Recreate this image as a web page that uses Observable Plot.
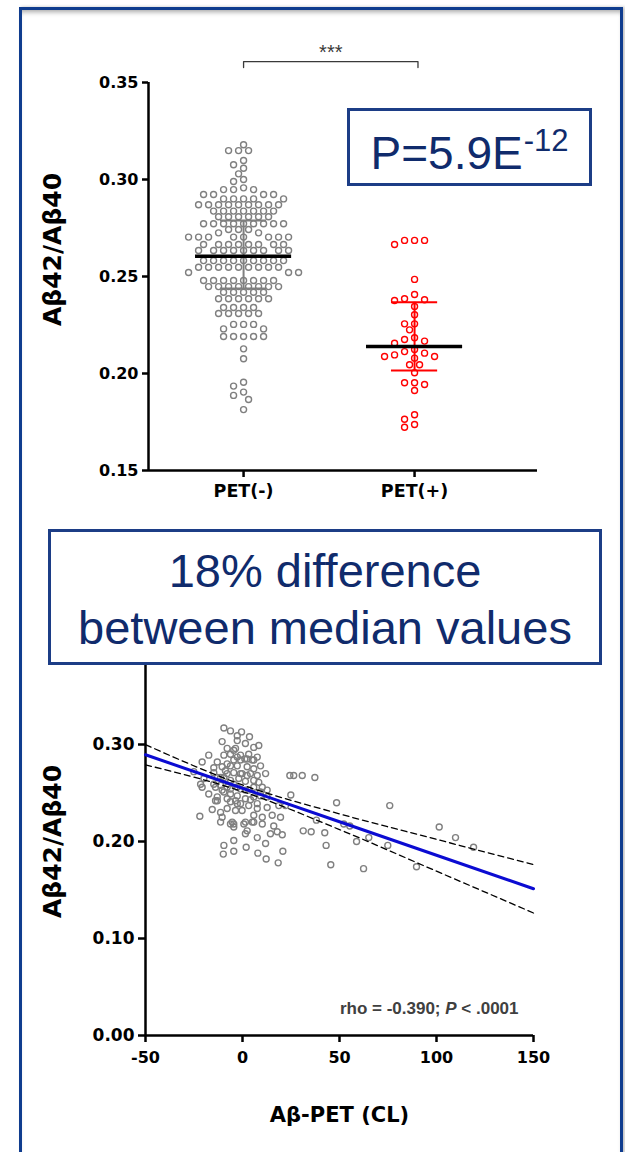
<!DOCTYPE html>
<html>
<head>
<meta charset="utf-8">
<script src="https://cdn.jsdelivr.net/npm/d3@7"></script>
<script src="https://cdn.jsdelivr.net/npm/@observablehq/plot@0.6"></script>
<style>
  html, body { margin: 0; padding: 0; background: #ffffff; }
  #page { position: relative; width: 625px; height: 1152px; overflow: hidden; background: #ffffff;
          font-family: "Liberation Sans", Arial, Helvetica, sans-serif; }
  #scatterTop, #scatterBottom { position: absolute; left: 0; width: 625px; }
  #scatterTop { top: 0; }
  #scatterBottom { top: 600px; }
  .note { position: absolute; box-sizing: border-box; background: #ffffff; border: 3px solid #1c3d86;
          color: #102b6c; text-align: center; font-weight: normal; }
  #pNote { left: 347px; top: 108px; width: 245px; height: 78px; font-size: 46px; line-height: 46px; padding-top: 19px; white-space: nowrap; }
  #pNote sup { font-size: 31px; vertical-align: 18px; line-height: 0; margin-left: 1px; }
  #diffNote { left: 48px; top: 529px; width: 554px; height: 136px; font-size: 47px; line-height: 57px; padding-top: 10px; }
  #frame { position: absolute; left: 19px; top: 7px; width: 604px; height: 1200px; box-sizing: border-box;
           border: 3px solid #0f3c8e; box-shadow: inset 0 5px 5px -3px rgba(0,0,0,0.35), 2px 0 3px rgba(0,0,0,0.25); pointer-events: none; }
</style>
</head>
<body>
<div id="page">
  <div id="scatterTop"></div>
  <div id="scatterBottom"></div>
  <div class="note" id="pNote"></div>
  <div class="note" id="diffNote"></div>
  <div id="frame"></div>
</div>
<script>
// ---- Group comparison: Aβ42/Aβ40 ratio by amyloid-PET status ----
const groups = ["PET(-)", "PET(+)"];

const petNegRatio = [
  0.3179,
  0.3149, 0.3149, 0.3149,
  0.3098, 0.3076, 0.3058, 0.3029, 0.3000, 0.2990, 0.2957,
  0.2948, 0.2948, 0.2948,
  0.2923, 0.2923, 0.2923, 0.2923,
  0.2900, 0.2900, 0.2900, 0.2900, 0.2900,
  0.2870, 0.2870, 0.2870, 0.2870, 0.2870, 0.2870, 0.2870, 0.2870, 0.2870,
  0.2837, 0.2837, 0.2837, 0.2837, 0.2837, 0.2837, 0.2837,
  0.2808, 0.2808, 0.2808, 0.2808, 0.2808, 0.2808,
  0.2772, 0.2772, 0.2772, 0.2772, 0.2772, 0.2772, 0.2772, 0.2772, 0.2772,
  0.2742, 0.2742, 0.2742,
  0.2725, 0.2725,
  0.2703, 0.2703, 0.2703, 0.2703, 0.2703, 0.2703, 0.2703, 0.2703,
  0.2665, 0.2665, 0.2665, 0.2665, 0.2665, 0.2665, 0.2665, 0.2665,
  0.2634, 0.2634, 0.2634, 0.2634, 0.2634, 0.2634, 0.2634, 0.2634, 0.2634,
  0.2582, 0.2582, 0.2582, 0.2582, 0.2582, 0.2582, 0.2582, 0.2582, 0.2582,
  0.2548, 0.2548, 0.2548, 0.2548, 0.2548, 0.2548, 0.2548, 0.2548, 0.2548,
  0.2521, 0.2521, 0.2521,
  0.2479, 0.2479, 0.2479, 0.2479, 0.2479, 0.2479, 0.2479, 0.2479,
  0.2448, 0.2448, 0.2448, 0.2448, 0.2448, 0.2448, 0.2448, 0.2448,
  0.2419, 0.2419, 0.2419, 0.2419, 0.2419,
  0.2385, 0.2385, 0.2385, 0.2385, 0.2385, 0.2385,
  0.2340, 0.2340, 0.2340, 0.2340,
  0.2309, 0.2309, 0.2309, 0.2309, 0.2309,
  0.2253, 0.2253, 0.2253,
  0.2230, 0.2230,
  0.2191, 0.2191, 0.2191, 0.2191, 0.2191,
  0.2127, 0.2076, 0.1955, 0.1935, 0.1904, 0.1887, 0.1866, 0.1814
];

const petPosRatio = [
  0.2686, 0.2665, 0.2686, 0.2686, 0.2485, 0.2407, 0.2385, 0.2380, 0.2376,
  0.2345, 0.2303, 0.2256, 0.2256, 0.2225, 0.2184, 0.2167, 0.2156, 0.2175,
  0.2124, 0.2105, 0.2113, 0.2088, 0.2079, 0.2088, 0.2096, 0.2045, 0.2045,
  0.2004, 0.1952, 0.1943, 0.1952, 0.1912, 0.1764, 0.1787, 0.1723, 0.1737
];

// Median and interquartile range per group
const groupMedian = [0.2605, 0.2139];
const groupQ1 = [0.2438, 0.2015];
const groupQ3 = [0.2789, 0.2367];

const topTicks = [0.15, 0.20, 0.25, 0.30, 0.35];
const significance = "***";
const pValueBase = "P=5.9E";
const pValueExp = "-12";
const diffLines = ["18% difference", "between median values"];

// ---- Correlation: Aβ42/Aβ40 ratio against Aβ-PET centiloid ----
const centiloid = [
  -22.0, -20.8, -17.4, -25.1, -19.9, -21.6, -20.8, -17.4, -15.6, -14.8,
  -13.0, -14.8, -13.0, -13.9, -11.3, -10.5, -5.3, -4.5, -9.6, -6.2,
  -10.5, -2.7, -0.5, 3.6, 1.5, 5.8, 8.4, -7.9, -3.6, -2.7,
  -4.5, -1.0, 3.2, 7.6, 1.2, 5.0, -9.6, -6.2, -2.7, -10.5,
  -6.2, -2.7, 2.4, 5.8, 9.3, -8.8, -4.5, -0.2, 4.1, 7.6,
  11.9, -9.6, -6.2, -1.9, 1.5, 5.8, 8.4, -11.3, -7.9, -4.5,
  -1.0, 3.2, 10.2, 12.7, -9.6, -6.2, -2.7, 1.5, 5.8, 9.3,
  -6.2, -2.7, 3.2, 7.6, 12.7, 18.7, -7.9, -3.6, -0.2, 5.8,
  10.2, 15.3, 1.5, 5.0, 10.2, 16.1, 17.9, 14.4, 2.4, -9.9,
  -9.6, -4.5, 1.9, 7.9, 12.2, 18.4, 24.4, 26.4, 30.8, 37.3,
  24.9, 48.5, 75.9, 22.2, 19.6, 38.1, 52.2, 55.3, 101.4, 31.3,
  35.4, 42.4, 20.5, 65.1, 109.8, 58.8, 119.1, 43.1, 74.9, 20.8,
  45.5, 62.4, 89.7, -13.0, -14.8, -11.3, -7.9, -1.0, 2.4, -13.9,
  -10.5, -6.2, -2.7, 1.5, 5.8, 9.3, -13.0, -7.9, -3.6, -1.0,
  4.1, 7.6, 12.7, -11.3, -6.2, -4.5, 0.7, 5.8, 1.5, -4.5,
  7.6, 11.9, -7.9, -4.5, -1.0, 2.4, 5.8
];
const abRatio = [
  0.226, 0.282, 0.289, 0.272, 0.265, 0.259, 0.256, 0.249, 0.233, 0.276,
  0.266, 0.259, 0.246, 0.242, 0.230, 0.225, 0.220, 0.218, 0.317, 0.314,
  0.303, 0.309, 0.313, 0.308, 0.301, 0.297, 0.299, 0.296, 0.296, 0.304,
  0.294, 0.289, 0.290, 0.287, 0.285, 0.284, 0.289, 0.290, 0.287, 0.277,
  0.278, 0.278, 0.277, 0.275, 0.278, 0.273, 0.271, 0.270, 0.270, 0.268,
  0.270, 0.266, 0.263, 0.265, 0.262, 0.263, 0.261, 0.258, 0.256, 0.259,
  0.254, 0.253, 0.256, 0.253, 0.251, 0.249, 0.247, 0.244, 0.246, 0.247,
  0.241, 0.239, 0.237, 0.234, 0.235, 0.237, 0.234, 0.232, 0.232, 0.227,
  0.225, 0.227, 0.220, 0.220, 0.218, 0.216, 0.210, 0.208, 0.211, 0.187,
  0.196, 0.190, 0.194, 0.188, 0.182, 0.178, 0.268, 0.268, 0.268, 0.266,
  0.248, 0.240, 0.237, 0.237, 0.225, 0.222, 0.218, 0.216, 0.215, 0.211,
  0.210, 0.209, 0.207, 0.204, 0.204, 0.200, 0.194, 0.196, 0.196, 0.190,
  0.176, 0.172, 0.174, 0.282, 0.271, 0.266, 0.270, 0.270, 0.268, 0.256,
  0.253, 0.254, 0.256, 0.253, 0.256, 0.251, 0.242, 0.244, 0.242, 0.239,
  0.243, 0.239, 0.246, 0.220, 0.218, 0.215, 0.218, 0.220, 0.208, 0.201,
  0.204, 0.198, 0.280, 0.284, 0.284, 0.285, 0.284
];

// Linear fit with 95% confidence band, sampled along the centiloid axis
const fitCentiloid = [-50, 0, 50, 100, 150];
const fitRatio = [0.2894, 0.2549, 0.2204, 0.1858, 0.1513];
const fitLower = [0.2790, 0.2515, 0.2123, 0.1694, 0.1263];
const fitUpper = [0.2998, 0.2583, 0.2285, 0.2022, 0.1763];

const bottomYTicks = [0.00, 0.10, 0.20, 0.30];
const bottomXTicks = [-50, 0, 50, 100, 150];
const statParts = [{text: "rho = -0.390; "}, {text: "P", italic: true}, {text: " < .0001"}];
const yTitle = "Aβ42/Aβ40";
const xTitle = "Aβ-PET (CL)";

// ---- styling ----
const AXIS_FONT = '"DejaVu Sans", Verdana, sans-serif';
const TEXT_FONT = '"Liberation Sans", Arial, Helvetica, sans-serif';
const GROUP_STROKE = ["#7f7f7f", "#ff0000"];
const POINT_GRAY = "#808080";
const AXIS_W = 2.5;

// Swarm layout: each point takes the free slot nearest its group centre
const SWARM_STEP = 5, SWARM_MIN = 7.5;
function swarm(options) {
  return Plot.initializer(options, (data, facets, channels, scales) => {
    const G = channels.x.value, V = channels.y.value;
    const n = G.length;
    const X = new Float64Array(n), Y = new Float64Array(n);
    for (let i = 0; i < n; ++i) { X[i] = scales.x(G[i]); Y[i] = scales.y(V[i]); }
    for (const I of facets) {
      const order = Array.from(I).sort((a, b) => Y[a] - Y[b]);
      const placed = [];
      for (const i of order) {
        const cx = X[i];
        for (let k = 0; k < 400; ++k) {
          const off = (k % 2 ? -1 : 1) * Math.ceil(k / 2) * SWARM_STEP;
          const px = cx + off;
          let ok = true;
          for (const [qx, qy, qg] of placed) {
            if (qg !== G[i]) continue;
            const dx = px - qx, dy = Y[i] - qy;
            if (dx * dx + dy * dy < SWARM_MIN * SWARM_MIN) { ok = false; break; }
          }
          if (ok) { X[i] = px; break; }
        }
        placed.push([X[i], Y[i], G[i]]);
      }
    }
    return {data, facets, channels: {x: {value: X}, y: {value: Y}}};
  });
}

// ---- top chart ----
const negPoints = petNegRatio.map(v => ({g: 1, v}));
const posPoints = petPosRatio.map(v => ({g: 2, v}));
const summary = groups.map((name, i) => ({
  g: i + 1, median: groupMedian[i], q1: groupQ1[i], q3: groupQ3[i], color: GROUP_STROKE[i]
}));

const X_TOP = [0.444, 2.719];
const MED_HALF = 0.281, CAP_HALF = 0.135;
const BRACKET_TOP = 0.3608, BRACKET_FOOT = 0.3577, BRACKET_TEXT = 0.3652;
const bracket = [
  {g: 1, y: BRACKET_FOOT}, {g: 1, y: BRACKET_TOP}, {g: 2.02, y: BRACKET_TOP}, {g: 2.02, y: BRACKET_FOOT}
];

const topChart = Plot.plot({
  width: 625,
  height: 520,
  marginTop: 82,
  marginBottom: 50,
  marginLeft: 148,
  marginRight: 88,
  style: {fontFamily: AXIS_FONT, fontWeight: "bold", color: "#000", background: "transparent", overflow: "visible"},
  x: {domain: X_TOP, label: null},
  y: {domain: [0.15, 0.35], label: null},
  color: {type: "identity"},
  marks: [
    Plot.axisY(topTicks, {tickSize: 6, tickPadding: 4, strokeWidth: AXIS_W, fontSize: 16, tickFormat: d3.format(".2f"), label: null}),
    Plot.axisX([1, 2], {tickSize: 7, tickPadding: 7, strokeWidth: AXIS_W, fontSize: 17.5, tickFormat: i => groups[i - 1], label: null}),
    Plot.ruleX([X_TOP[0]], {strokeWidth: AXIS_W}),
    Plot.ruleY([0.15], {strokeWidth: AXIS_W}),
    Plot.dot(negPoints, swarm({x: "g", y: "v", r: 3, stroke: GROUP_STROKE[0], strokeWidth: 1.4, fill: "none"})),
    Plot.dot(posPoints, swarm({x: "g", y: "v", r: 3, stroke: GROUP_STROKE[1], strokeWidth: 1.4, fill: "none"})),
    Plot.ruleX(summary, {x: "g", y1: "q1", y2: "q3", stroke: "color", strokeWidth: 2}),
    Plot.ruleY(summary, {x1: d => d.g - CAP_HALF, x2: d => d.g + CAP_HALF, y: "q1", stroke: "color", strokeWidth: 2}),
    Plot.ruleY(summary, {x1: d => d.g - CAP_HALF, x2: d => d.g + CAP_HALF, y: "q3", stroke: "color", strokeWidth: 2}),
    Plot.ruleY(summary, {x1: d => d.g - MED_HALF, x2: d => d.g + MED_HALF, y: "median", stroke: "#000", strokeWidth: 3.5}),
    Plot.line(bracket, {x: "g", y: "y", stroke: "#3a3a3a", strokeWidth: 1.3}),
    Plot.text([significance], {x: () => 1.51, y: () => BRACKET_TEXT, text: d => d, fontFamily: TEXT_FONT, fontSize: 20, fontWeight: "normal", fill: "#3a3a3a"}),
    Plot.text([yTitle], {frameAnchor: "left", rotate: -90, textAnchor: "middle", dx: -96, dy: -27, text: d => d, fontSize: 25})
  ]
});
document.getElementById("scatterTop").appendChild(topChart);

// ---- bottom chart ----
const scatter = centiloid.map((cl, i) => ({cl, ratio: abRatio[i]}));
const fit = fitCentiloid.map((cl, i) => ({cl, fit: fitRatio[i], lo: fitLower[i], hi: fitUpper[i]}));
const statText = statParts.map(p => p.text).join("");

const bottomChart = Plot.plot({
  width: 625,
  height: 552,
  marginTop: 47,
  marginBottom: 117,
  marginLeft: 145,
  marginRight: 92,
  style: {fontFamily: AXIS_FONT, fontWeight: "bold", color: "#000", background: "transparent", overflow: "visible"},
  x: {domain: [-50, 150], label: null},
  y: {domain: [0, 0.4], label: null},
  marks: [
    Plot.axisY(bottomYTicks, {tickSize: 7, tickPadding: 4, strokeWidth: AXIS_W, fontSize: 17, tickFormat: d3.format(".2f"), label: null}),
    Plot.axisX(bottomXTicks, {tickSize: 7, tickPadding: 9, strokeWidth: AXIS_W, fontSize: 16, tickFormat: d => String(d), label: null}),
    Plot.ruleX([-50], {strokeWidth: AXIS_W}),
    Plot.ruleY([0], {strokeWidth: AXIS_W}),
    Plot.dot(scatter, {x: "cl", y: "ratio", r: 3, stroke: POINT_GRAY, strokeWidth: 1.4, fill: "none"}),
    Plot.line(fit, {x: "cl", y: "hi", stroke: "#000", strokeWidth: 1.3, strokeDasharray: "6,4", curve: "monotone-x"}),
    Plot.line(fit, {x: "cl", y: "lo", stroke: "#000", strokeWidth: 1.3, strokeDasharray: "6,4", curve: "monotone-x"}),
    Plot.line(fit, {x: "cl", y: "fit", stroke: "#0b0bd2", strokeWidth: 3}),
    Plot.text([statText], {frameAnchor: "bottom-right", dx: -15, dy: -22, textAnchor: "end", text: d => d, fontFamily: TEXT_FONT, fontSize: 17, fill: "#404040"}),
    Plot.text([xTitle], {frameAnchor: "bottom", dy: 86, textAnchor: "middle", text: d => d, fontSize: 21}),
    Plot.text([yTitle], {frameAnchor: "left", rotate: -90, textAnchor: "middle", dx: -93, text: d => d, fontSize: 25})
  ]
});
// italic P inside the statistics label
d3.select(bottomChart).selectAll("text")
  .filter(function () { return this.textContent === statText; })
  .each(function () {
    const t = d3.select(this);
    t.text(null);
    for (const p of statParts) t.append("tspan").attr("font-style", p.italic ? "italic" : null).text(p.text);
  });
document.getElementById("scatterBottom").appendChild(bottomChart);

// ---- annotation boxes ----
const pNote = document.getElementById("pNote");
pNote.textContent = pValueBase;
const sup = document.createElement("sup");
sup.textContent = pValueExp;
pNote.appendChild(sup);

const diffNote = document.getElementById("diffNote");
diffLines.forEach((line, i) => {
  if (i) diffNote.appendChild(document.createElement("br"));
  diffNote.appendChild(document.createTextNode(line));
});
</script>
</body>
</html>
